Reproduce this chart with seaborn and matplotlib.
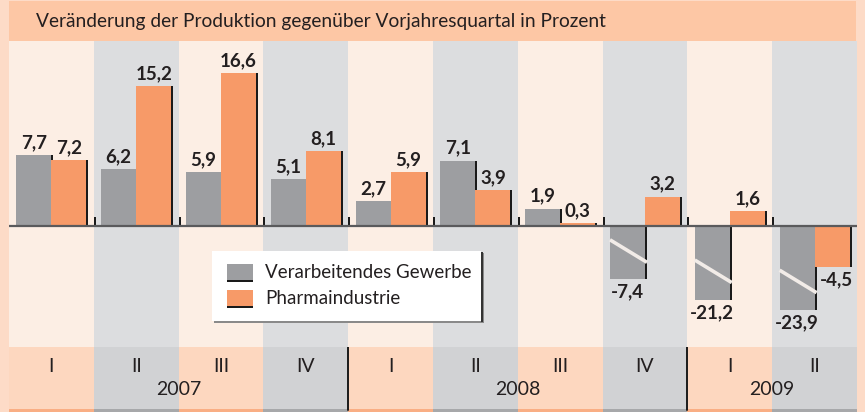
import numpy as np
import pandas as pd
import matplotlib
matplotlib.use("Agg")
import matplotlib.pyplot as plt
import seaborn as sns
from matplotlib.patches import Rectangle

# Daten
quartale = ["I", "II", "III", "IV", "I", "II", "III", "IV", "I", "II"]
jahre = ["2007", "2007", "2007", "2007", "2008", "2008", "2008", "2008", "2009", "2009"]
serien = ["Verarbeitendes Gewerbe", "Pharmaindustrie"]
gewerbe = [7.7, 6.2, 5.9, 5.1, 2.7, 7.1, 1.9, -7.4, -21.2, -23.9]
pharma = [7.2, 15.2, 16.6, 8.1, 5.9, 3.9, 0.3, 3.2, 1.6, -4.5]
# Achsenbruch: dargestellte Länge der gekürzten Balken
gewerbe_gezeigt = [7.7, 6.2, 5.9, 5.1, 2.7, 7.1, 1.9, -5.8, -8.0, -9.1]
titel = "Veränderung der Produktion gegenüber Vorjahresquartal in Prozent"

# Farben
c_rand = "#FDDBC7"
c_titel = "#FDC7A5"
c_hell = "#FCEEE4"
c_grau_bg = "#DCDDDF"
c_streifen_hell = "#FDD7BF"
c_streifen_grau = "#D1D2D4"
c_grau = "#9D9EA1"
c_orange = "#F79A68"
c_text = "#231F20"

sns.set_theme(style="white")
plt.rcParams["font.family"] = ["Lato", "DejaVu Sans"]

W, H = 865, 412
fig = plt.figure(figsize=(W / 100, H / 100), dpi=100, facecolor=c_rand)

def fx(x):
    return x / W

def fy(y):
    return 1 - y / H

# Hauptdiagramm
ax = fig.add_axes([fx(9), fy(347), fx(848), (347 - 41) / H])
n = len(quartale)
keys = [f"{j} {q}" for j, q in zip(jahre, quartale)]
df = pd.DataFrame({
    "key": keys * 2,
    "wert": gewerbe_gezeigt + pharma,
    "serie": [serien[0]] * n + [serien[1]] * n,
})
for i in range(n):
    ax.axvspan(i - 0.5, i + 0.5, color=c_hell if i % 2 == 0 else c_grau_bg, lw=0, zorder=0)

sns.barplot(data=df, x="key", y="wert", hue="serie", order=keys, hue_order=serien,
            palette=[c_grau, c_orange], width=0.826, gap=0, saturation=1,
            errorbar=None, legend=False, linewidth=0, zorder=3, ax=ax)

px = 1 / 84.8  # ein Pixel in Datenkoordinaten
# Schatten rechts an jedem Balken
for p in ax.patches:
    x1 = p.get_x() + p.get_width()
    ax.add_patch(Rectangle((x1, p.get_y()), 2 * px, p.get_height(),
                           color="#1A1A1A", lw=0, zorder=2.5))

# Werte
bw = 0.413
for i in range(n):
    for wert, gez, dx in [(gewerbe[i], gewerbe_gezeigt[i], -bw / 2), (pharma[i], pharma[i], bw / 2)]:
        txt = f"{wert:.1f}".replace(".", ",")
        if wert >= 0:
            ax.annotate(txt, (i + dx, gez), xytext=(0, 5), textcoords="offset points",
                        ha="center", va="baseline", fontsize=13.5, fontweight="bold", color=c_text)
        else:
            ax.annotate(txt, (i + dx + (0.05 if dx > 0 else 0), gez), xytext=(0, -3),
                        textcoords="offset points", ha="center", va="top",
                        fontsize=13.5, fontweight="bold", color=c_text)

# Bruchstriche
bruch_idx = [7, 8, 9]
bruch_oben = [-1.5, -3.7, -4.8]
for i, yo in zip(bruch_idx, bruch_oben):
    ax.plot([i - bw, i + 2 * px], [yo, yo - 2.45], color="#F2ECE8", lw=2.6,
            solid_capstyle="butt", zorder=5)

ax.axhline(0, color="#5A5A5C", lw=1.6, zorder=4)
ax.set_xlim(-0.5, n - 0.5)
ax.set_ylim(-(347 - 226) / 9.2, (226 - 41) / 9.2)
ax.set_axis_off()

# Streifen unten mit Quartalen und Jahren
ax2 = fig.add_axes([fx(9), 0, fx(848), (H - 347) / H])
ax2.set_xlim(-0.5, n - 0.5)
ax2.set_ylim(H, 347)
for i in range(n):
    ax2.add_patch(Rectangle((i - 0.5, 347), 1, 62, lw=0,
                            color=c_streifen_hell if i % 2 == 0 else c_streifen_grau))
    ax2.add_patch(Rectangle((i - 0.5, 409), 1, 3, lw=0,
                            color="#F9AE84" if i % 2 == 0 else "#A7A8AA"))
    ax2.text(i, 367, quartale[i], ha="center", va="center", fontsize=14, color=c_text)
jahr_liste = list(dict.fromkeys(jahre))
for j in jahr_liste:
    idx = [i for i in range(n) if jahre[i] == j]
    ax2.text(np.mean(idx), 390, j, ha="center", va="center", fontsize=14, color=c_text)
    if idx[0] > 0:
        ax2.plot([idx[0] - 0.5] * 2, [347, 410], color="#1A1A1A", lw=1.4)
ax2.set_axis_off()

# Overlay für Titel und Legende (Pixelkoordinaten)
ov = fig.add_axes([0, 0, 1, 1], zorder=10)
ov.set_xlim(0, W)
ov.set_ylim(H, 0)
ov.patch.set_alpha(0)
ov.set_axis_off()
ov.add_patch(Rectangle((9, 1), 847, 40, color=c_titel, lw=0))
ov.text(36, 21, titel, ha="left", va="center", fontsize=13.8, color=c_text)

# Legende
ov.add_patch(Rectangle((214, 253), 270, 70, color="#8A8A8A", lw=0))
ov.add_patch(Rectangle((481, 252), 2, 70, color="#333333", lw=0))
ov.add_patch(Rectangle((212, 251), 269, 70, color="white", lw=0))
for k, (lab, col) in enumerate(zip(serien, [c_grau, c_orange])):
    y0 = 264 + k * 26
    ov.add_patch(Rectangle((227, y0), 26, 16, color=col, lw=0))
    ov.add_patch(Rectangle((227, y0 + 16), 26, 2, color="#1A1A1A", lw=0))
    ov.text(265, y0 + 9, lab, ha="left", va="center", fontsize=13.5, color=c_text)

fig.savefig("out.png", dpi=100, facecolor=c_rand)
